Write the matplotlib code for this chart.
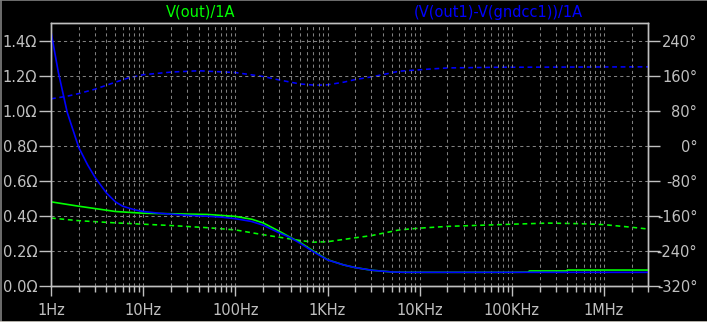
import numpy as np
import matplotlib
matplotlib.use('Agg')
import matplotlib.pyplot as plt
from matplotlib.ticker import LogLocator, NullFormatter, FixedLocator
from matplotlib.lines import Line2D

# ------------------------------------------------------------------
# ------------------- Data ---------------
# ------------------------------------------------------------------
# V(out)/1A : magnitude (ohm) and phase (deg)
f_g_mag = [1, 2, 5, 10, 20, 50, 100, 150, 200, 300, 400, 500, 700, 1000, 1500,
           2000, 3000, 5000, 7000, 1e4, 1e5, 1.5e5, 1.55e5, 3.9e5, 4e5, 3e6]
g_mag = [0.48, 0.455, 0.425, 0.415, 0.412, 0.408, 0.397, 0.381, 0.36, 0.312, 0.276,
         0.25, 0.2, 0.15, 0.12, 0.105, 0.09, 0.08, 0.078, 0.078, 0.078, 0.079,
         0.086, 0.086, 0.091, 0.091]

f_g_ph = [1, 2, 5, 10, 20, 50, 100, 200, 500, 700, 1000, 2000, 3000, 6000, 1e4,
          2e4, 1e5, 2.5e5, 6e5, 1e6, 2e6, 3e6]
g_ph = [-165, -171, -176, -179, -182, -187, -192, -203, -216, -220, -219, -210,
        -205, -192, -188, -184, -179, -176.5, -178, -180, -186, -190]

# (V(out1)-V(gndcc1))/1A : magnitude (ohm) and phase (deg)
f_b_mag = [1, 1.2, 1.5, 2, 2.5, 3, 4, 5, 6, 8, 10, 15, 20, 30, 50, 70, 100, 150,
           200, 300, 400, 500, 700, 1000, 1500, 2000, 3000, 5000, 7000, 1e4, 3e6]
b_mag = [1.45, 1.22, 0.99, 0.79, 0.69, 0.62, 0.53, 0.48, 0.455, 0.435, 0.425,
         0.415, 0.41, 0.403, 0.398, 0.393, 0.384, 0.368, 0.347, 0.303, 0.274, 0.245,
         0.196, 0.149, 0.12, 0.105, 0.09, 0.08, 0.078, 0.078, 0.078]

f_b_ph = [1, 1.5, 2, 3, 5, 7, 10, 20, 40, 100, 200, 300, 500, 750, 1000, 1500,
          2000, 3000, 6000, 1.3e4, 2e4, 7e4, 3e6]
b_ph = [107, 113, 119, 129, 145, 155, 162, 168, 171, 167, 158, 150, 141, 138, 139,
        145, 151, 157, 170, 175, 177.5, 179, 180]

mag_ticks = [0.0, 0.2, 0.4, 0.6, 0.8, 1.0, 1.2, 1.4]
ph_ticks = [-320, -240, -160, -80, 0, 80, 160, 240]
x_ticks = [1, 10, 100, 1e3, 1e4, 1e5, 1e6]
x_labels = ['1Hz', '10Hz', '100Hz', '1KHz', '10KHz', '100KHz', '1MHz']

# ------------------------------------------------------------------
# ------------------------- Figure layout --------------------------
# ------------------------------------------------------------------
txt = '#c0c0c0'
gridc = '#808080'
green = '#00ff00'
blue = '#0000ff'
plt.rcParams['font.family'] = ['DejaVu Sans']
plt.rcParams['font.size'] = 10.5

fig = plt.figure(figsize=(7.07, 3.22), dpi=100, facecolor='black')
ax1 = fig.add_axes([51/707, 36/322, 597/707, 263/322], facecolor='black')
ax2 = ax1.twinx()

ax1.set_xscale('log')
ax1.set_xlim(1, 3e6)
ax1.set_ylim(0, 1.5)
ax2.set_ylim(-320, 280)

for ax in (ax1, ax2):
    for s in ax.spines.values():
        s.set_color(txt)
        s.set_linewidth(1.0)

# Grid
ax1.xaxis.set_major_locator(FixedLocator(x_ticks))
ax1.xaxis.set_minor_locator(LogLocator(base=10, subs=np.arange(2, 10)))
ax1.xaxis.set_minor_formatter(NullFormatter())
ax1.set_xticklabels(x_labels)
ax1.set_yticks(mag_ticks)
ax1.set_yticklabels(['%.1f\u03a9' % v for v in mag_ticks])
ax1.grid(True, which='both', axis='x', color=gridc, linestyle=(0, (3, 3)), linewidth=0.75)
ax1.grid(True, which='major', axis='y', color=gridc, linestyle=(0, (3, 3)), linewidth=0.75)

ax1.tick_params(axis='y', which='major', colors=txt, length=9, width=1, pad=1, labelsize=10.5)
ax1.tick_params(axis='x', which='major', colors=txt, length=7.5, width=1, pad=5, labelsize=10.5)
ax1.tick_params(axis='x', which='minor', colors=txt, length=4, width=1)

ax2.set_yticks(ph_ticks)
ax2.set_yticklabels(['%d\u00b0' % v for v in ph_ticks], ha='right')
ax2.tick_params(axis='y', colors=txt, length=8.5, width=1, pad=27, labelsize=10.5)

# -------- Add data -----------
dash = (0, (3, 2.3))
ax2.plot(f_g_ph, g_ph, color=green, lw=1.15, linestyle=dash)
ax2.plot(f_b_ph, b_ph, color=blue, lw=1.15, linestyle=dash)
ax1.plot(f_g_mag, g_mag, color=green, lw=1.2)
ax1.plot(f_b_mag, b_mag, color=blue, lw=1.2)
ax1.set_zorder(ax2.get_zorder() + 1)
ax1.patch.set_visible(False)
ax2.patch.set_facecolor('black')

# ------- Trace titles --------------------------
fig.text(201/707, 1 - 12/322, 'V(out)/1A', color=green, ha='center', va='center', fontsize=10.5)
fig.text(498/707, 1 - 12/322, '(V(out1)-V(gndcc1))/1A', color=blue, ha='center', va='center',
         fontsize=10.5)

# window edges
fig.add_artist(Line2D([0, 1], [0.999, 0.999], color='#808080', lw=1.2, transform=fig.transFigure))
fig.add_artist(Line2D([0.001, 0.001], [0, 1], color='#808080', lw=1.2, transform=fig.transFigure))
fig.add_artist(Line2D([0, 1], [0.001, 0.001], color='#d4d0c8', lw=1.2, transform=fig.transFigure))

fig.savefig('out.png', dpi=100, facecolor='black')
